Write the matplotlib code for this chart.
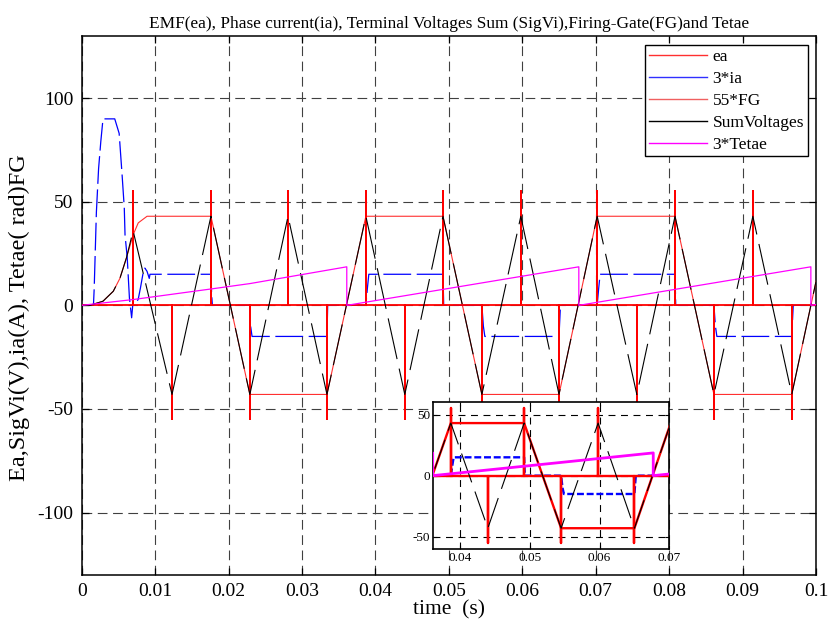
import matplotlib
matplotlib.use('Agg')
import matplotlib.pyplot as plt
from matplotlib.lines import Line2D

plt.rcParams['font.family'] = ['Liberation Serif', 'DejaVu Serif']
plt.rcParams['lines.scale_dashes'] = False
plt.rcParams['axes.unicode_minus'] = False

# ---------------- data ----------------
# EMF ea (trapezoid), breakpoints
ea_t = [0.0, 0.0011, 0.0029, 0.0043, 0.0052, 0.0061, 0.0070, 0.0077, 0.0089,
        0.0176, 0.0229, 0.0334, 0.0387, 0.0492, 0.0545, 0.0650, 0.0702,
        0.0808, 0.0861, 0.0967, 0.1000]
ea_v = [0.0, 0.0, 2.0, 6.8, 13.0, 23.0, 34.0, 39.8, 43.0,
        43.0, -43.0, -43.0, 43.0, 43.0, -43.0, -43.0, 43.0,
        43.0, -43.0, -43.0, 11.5]

# 3*ia phase current
ia_t = [0.0, 0.0016, 0.0017, 0.0020, 0.0023, 0.0026, 0.0029, 0.0031, 0.0045,
        0.0051, 0.0055, 0.0058, 0.0059, 0.0062, 0.0065, 0.0068, 0.0070,
        0.0074, 0.0077, 0.0080, 0.0084, 0.0086, 0.0089, 0.0092, 0.0093,
        0.0176, 0.0177, 0.0178, 0.0229, 0.0230, 0.0232, 0.0334, 0.0335,
        0.0387, 0.0389, 0.0391, 0.0492, 0.0493, 0.0545, 0.0547, 0.0549,
        0.0650, 0.0652, 0.0702, 0.0704, 0.0706, 0.0808, 0.0809, 0.0861,
        0.0863, 0.0865, 0.0967, 0.0969, 0.1000]
ia_v = [0.0, 0.0, 8.0, 45.0, 66.0, 79.0, 90.0, 90.0, 90.0,
        83.0, 63.0, 47.0, 34.0, 23.0, 3.5, -6.0, 2.0,
        1.0, 3.0, 8.4, 16.4, 18.0, 16.4, 13.0, 15.0,
        15.0, 5.0, 0.0, 0.0, -10.0, -15.0, -15.0, 0.0,
        0.0, 8.0, 15.0, 15.0, 0.0, 0.0, -10.0, -15.0,
        -15.0, 0.0, 0.0, 8.0, 15.0, 15.0, 0.0, 0.0,
        -10.0, -15.0, -15.0, 0.0, 0.0]

# 55*FG firing-gate pulses (time, value)
fg_t = [0.0070, 0.0123, 0.0176, 0.0229, 0.0281, 0.0334, 0.0387, 0.0440, 0.0492,
        0.0545, 0.0598, 0.0650, 0.0702, 0.0756, 0.0808, 0.0861, 0.0914, 0.0967]
fg_v = [55, -55, 55, -55, 55, -55, 55, -55, 55,
        -55, 55, -55, 55, -55, 55, -55, 55, -55]

# Sum of terminal voltages
sv_t = [0.0, 0.0011, 0.0029, 0.0043, 0.0052, 0.0061, 0.0070,
        0.0123, 0.0176, 0.0229, 0.0281, 0.0334, 0.0387, 0.0440, 0.0492,
        0.0545, 0.0598, 0.0650, 0.0702, 0.0756, 0.0808, 0.0861, 0.0914,
        0.0967, 0.1000]
sv_v = [0.0, 0.0, 2.0, 6.8, 13.0, 23.0, 36.0,
        -43.0, 43.0, -43.0, 43.0, -43.0, 43.0, -43.0, 43.0,
        -43.0, 43.0, -43.0, 43.0, -43.0, 43.0, -43.0, 43.0,
        -43.0, 11.5]

# 3*Tetae electrical angle
th_t = [0.0, 0.0070, 0.0176, 0.0229, 0.0361, 0.0361, 0.0677, 0.0677,
        0.0993, 0.0993, 0.1000]
th_v = [0.0, 2.8, 7.9, 10.5, 18.6, 0.0, 18.6, 0.0,
        18.6, 0.0, 0.4]

x_ticks = [0, 0.01, 0.02, 0.03, 0.04, 0.05, 0.06, 0.07, 0.08, 0.09, 0.1]
x_labels = ['0', '0.01', '0.02', '0.03', '0.04', '0.05', '0.06', '0.07', '0.08', '0.09', '0.1']
y_ticks = [-100, -50, 0, 50, 100]
in_x_ticks = [0.04, 0.05, 0.06, 0.07]
in_x_labels = ['0.04', '0.05', '0.06', '0.07']
in_y_ticks = [-50, 0, 50]
in_y_labels = ['-50', '0', '50']
legend_labels = ['ea', '3*ia', '55*FG', 'SumVoltages', '3*Tetae']

# firing-gate pulses as a line
fg_x, fg_y = [0.0], [0.0]
for t, v in zip(fg_t, fg_v):
    fg_x += [t, t, t]
    fg_y += [0.0, v, 0.0]
fg_x.append(0.1)
fg_y.append(0.0)

EA_C = '#ff3030'
FG_C = '#ff0000'
IA_C = '#0000ff'
TH_C = '#ff00ff'
GRID_C = '#404040'

fig = plt.figure(figsize=(8.31, 6.25), dpi=100)
W, H = 831.0, 625.0
ax = fig.add_axes([81.7 / W, 1 - 574.7 / H, (816 - 81.7) / W, (574.7 - 36) / H])


def draw(a, thick):
    if thick:
        a.plot(ea_t, ea_v, color=FG_C, lw=1.7, zorder=3)
        a.plot(ia_t, ia_v, color=IA_C, lw=1.7, dashes=(5, 2), zorder=3)
        a.plot(fg_x, fg_y, color=FG_C, lw=1.7, zorder=4)
        a.plot(sv_t, sv_v, color='black', lw=0.8, dashes=(22, 7), zorder=5)
        a.plot(th_t, th_v, color=TH_C, lw=2.0, zorder=6)
    else:
        a.plot(ea_t, ea_v, color=EA_C, lw=0.8, zorder=3)
        a.plot(ia_t, ia_v, color=IA_C, lw=0.9, dashes=(20, 4), zorder=3)
        a.plot(fg_x, fg_y, color=FG_C, lw=1.3, zorder=4)
        a.plot(sv_t, sv_v, color='black', lw=0.8, dashes=(30, 7), zorder=5)
        a.plot(th_t, th_v, color=TH_C, lw=0.9, zorder=6)


draw(ax, False)
ax.set_xlim(0, 0.1)
ax.set_ylim(-130, 130)
ax.set_xticks(x_ticks)
ax.set_xticklabels(x_labels)
ax.set_yticks(y_ticks)
ax.tick_params(direction='in', length=5, width=0.9, top=True, right=True,
               labelsize=14, pad=6)
ax.grid(True, color=GRID_C, lw=0.8, dashes=(7, 4))
for s in ax.spines.values():
    s.set_linewidth(1.1)
ax.set_title('EMF(ea), Phase current(ia), Terminal Voltages Sum (SigVi),Firing-Gate(FG)and Tetae',
             fontsize=12.4, pad=6)
ax.set_xlabel('time  (s)', fontsize=15.5, labelpad=0)
ax.set_ylabel('Ea,SigVi(V),ia(A), Tetae( rad)FG', fontsize=17.5)
ax.yaxis.set_label_coords(-0.071, 0.478)

handles = [Line2D([], [], color=EA_C, lw=1.0),
           Line2D([], [], color='#3030ff', lw=1.0),
           Line2D([], [], color='#f06060', lw=1.0),
           Line2D([], [], color='black', lw=1.0),
           Line2D([], [], color=TH_C, lw=1.0)]
leg = ax.legend(handles, legend_labels, loc='upper right', bbox_to_anchor=(0.989, 0.983),
                fontsize=12.5, handlelength=3.3, handletextpad=0.35, labelspacing=0.33,
                borderpad=0.22, borderaxespad=0, fancybox=False, framealpha=1,
                edgecolor='black')
leg.get_frame().set_linewidth(1.0)
leg.set_zorder(10)

# inset
ins = fig.add_axes([432.7 / W, 1 - 549 / H, (669.3 - 432.7) / W, (549 - 402.3) / H])
ins.set_zorder(20)
ins.set_facecolor('white')
draw(ins, True)
ins.set_xlim(0.0361, 0.07)
ins.set_ylim(-60, 60)
ins.set_xticks(in_x_ticks)
ins.set_xticklabels(in_x_labels)
ins.set_yticks(in_y_ticks)
ins.set_yticklabels(in_y_labels)
ins.tick_params(direction='in', length=3, width=0.8, top=True, right=True,
                labelsize=9.5, pad=2)
ins.grid(True, color='black', lw=0.8, dashes=(5, 4))
for s in ins.spines.values():
    s.set_linewidth(1.2)

fig.savefig('out.png', dpi=100)
